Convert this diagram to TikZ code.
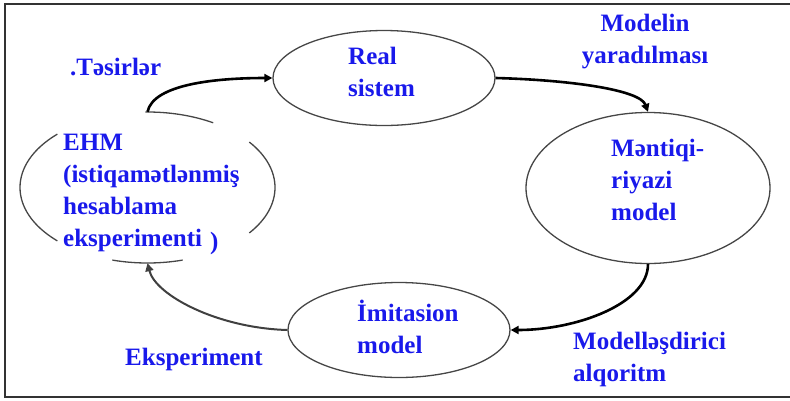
\documentclass[tikz,border=0pt]{standalone}
\usepackage{fontspec}
\setmainfont{Liberation Serif}
\usetikzlibrary{shapes.geometric,arrows.meta}
\definecolor{txtblue}{RGB}{25,25,235}
\definecolor{lingray}{RGB}{70,70,70}
\begin{document}
\begin{tikzpicture}[x=1pt,y=-1pt,
  oval/.style={ellipse, draw=lingray, line width=1.3pt, inner sep=0pt},
  lbl/.style={text=txtblue, font=\bfseries\fontsize{25}{32}\selectfont, align=left, inner sep=0pt, anchor=base west},
  flow/.style={line width=2.6pt, black, -{Triangle[length=8pt,width=8pt]}},
  ehmarc/.style={draw=lingray, line width=1.3pt},
]
\useasboundingbox (0,0) rectangle (790,400);
\draw[line width=1.2pt, black!80] (790,4) -- (5,4) -- (5,397) -- (790,397);

\node[oval, minimum width=222pt, minimum height=95pt] (real) at (384,78) {};
\node[oval, minimum width=244pt, minimum height=151pt] (ment) at (648,188) {};
\node[oval, minimum width=222pt, minimum height=95pt] (imit) at (399,330) {};
\node[ellipse, inner sep=0pt, minimum width=255pt, minimum height=151pt] (ehm) at (147.5,187.5) {};

\draw[ehmarc] (ehm.center) ++(59:127.5pt and 75.5pt) arc[start angle=59, end angle=91, x radius=127.5pt, y radius=75.5pt];
\draw[ehmarc] (ehm.center) ++(-37:127.5pt and 75.5pt) arc[start angle=-37, end angle=37, x radius=127.5pt, y radius=75.5pt];
\draw[ehmarc] (ehm.center) ++(-106:127.5pt and 75.5pt) arc[start angle=-106, end angle=-74, x radius=127.5pt, y radius=75.5pt];
\draw[ehmarc] (ehm.center) ++(135:127.5pt and 75.5pt) arc[start angle=135, end angle=225, x radius=127.5pt, y radius=75.5pt];

\node[lbl] (tesir) at (70,75) {.Təsirlər};
\node[lbl] (realtxt) at (348,96) {Real\\sistem};
\node[lbl, align=center, anchor=base] (modelin) at (645,63) {Modelin\\yaradılması};
\node[lbl] (menttxt) at (611,220) {Məntiqi-\\riyazi\\model};
\node[lbl] (imittxt) at (357,353) {İmitasion\\model};
\node[lbl] (algtxt) at (573,381) {Modelləşdirici\\alqoritm};
\node[lbl] (ekstxt) at (125,365) {Eksperiment};
\node[lbl] (ehmtxt) at (63,246) {EHM\\(istiqamətlənmiş\\hesablama\\eksperimenti\hspace{8pt}\raisebox{-3pt}{)}};

\draw[flow] (ehm.north) .. controls +(6,-28) and +(-55,0) .. (real.west);
\draw[flow] (real.east) .. controls +(75,2) and +(-8,-22) .. (ment.north);
\draw[flow] (ment.south) .. controls +(0,40) and +(65,0) .. (imit.east);
\draw[flow, line width=2pt, black!75] (imit.west) .. controls +(-70,-2) and +(8,32) .. (ehm.south);
\end{tikzpicture}
\end{document}
